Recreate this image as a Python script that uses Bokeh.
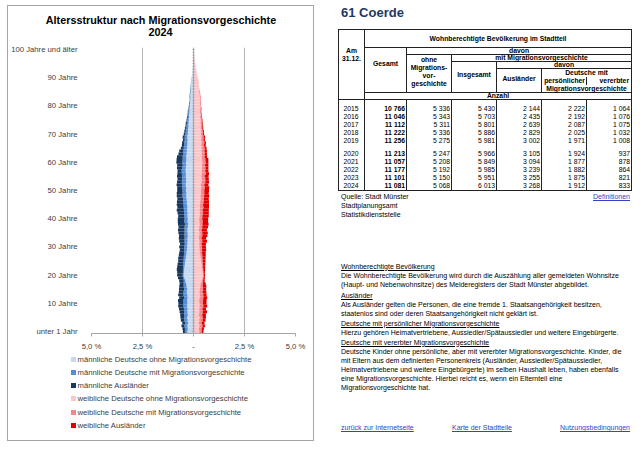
import numpy as np
from bokeh.plotting import figure
from bokeh.models import ColumnDataSource, FixedTicker, Span, Div, Label, Range1d
from bokeh.layouts import row, column
from bokeh.embed import file_html
from bokeh.resources import INLINE

FONT = "Liberation Sans"

# ---------------- data: pyramid (% of population), ages 0..100 ----------------
ages = list(range(101))

m_ohne = ([0.30, 0.28, 0.30, 0.27, 0.29, 0.31] +
          [0.28, 0.30, 0.29, 0.32, 0.30, 0.31, 0.29, 0.30, 0.33, 0.31, 0.34, 0.36] +
          [0.40, 0.45, 0.48, 0.47, 0.46, 0.44, 0.42, 0.40, 0.38, 0.36] +
          [0.34, 0.32, 0.31, 0.30, 0.29, 0.30, 0.28, 0.29, 0.30, 0.28, 0.27, 0.29, 0.28, 0.30, 0.29, 0.31, 0.30, 0.32] +
          [0.33, 0.34, 0.36, 0.35, 0.37, 0.36, 0.38, 0.37, 0.36, 0.38, 0.37, 0.39, 0.38, 0.36, 0.37, 0.35, 0.36, 0.34, 0.33, 0.32] +
          [0.31, 0.30, 0.29, 0.30, 0.28, 0.27, 0.26, 0.25, 0.24, 0.23, 0.22, 0.21, 0.20, 0.19, 0.18] +
          [0.17, 0.16, 0.15, 0.16, 0.14, 0.15, 0.13, 0.12, 0.10, 0.08, 0.07, 0.05, 0.04, 0.03, 0.02, 0.02, 0.01, 0.01, 0.00, 0.00])

m_mit = ([0.12, 0.14, 0.15, 0.13, 0.16, 0.15] +
         [0.17, 0.16, 0.18, 0.17, 0.19, 0.18, 0.17, 0.19, 0.16, 0.15, 0.14, 0.12] +
         [0.08, 0.06, 0.05, 0.05, 0.06, 0.07, 0.08, 0.09, 0.10, 0.11] +
         [0.12, 0.13, 0.14, 0.13, 0.15, 0.14, 0.16, 0.15, 0.14, 0.16, 0.15, 0.17, 0.16, 0.15, 0.17, 0.16, 0.18, 0.17] +
         [0.18, 0.17, 0.19, 0.18, 0.17, 0.19, 0.18, 0.20, 0.19, 0.18, 0.20, 0.19, 0.18, 0.17, 0.19, 0.18, 0.17, 0.16, 0.17, 0.16] +
         [0.15, 0.16, 0.14, 0.13, 0.12, 0.11, 0.10, 0.09, 0.08, 0.07, 0.06, 0.05, 0.05, 0.04, 0.03] +
         [0.03, 0.02, 0.03, 0.02, 0.02, 0.01, 0.02, 0.01, 0.01, 0.01, 0.00, 0.00, 0.00, 0.00, 0.00, 0.00, 0.00, 0.00, 0.00, 0.00])

m_ausl = ([0.10, 0.12, 0.14, 0.15, 0.17, 0.18] +
          [0.20, 0.22, 0.24, 0.26, 0.25, 0.27, 0.24, 0.26, 0.23, 0.25, 0.22, 0.20] +
          [0.22, 0.25, 0.27, 0.28, 0.30, 0.29, 0.28, 0.26, 0.27, 0.25] +
          [0.24, 0.22, 0.25, 0.23, 0.26, 0.28, 0.27, 0.30, 0.32, 0.29, 0.34, 0.31, 0.33, 0.30, 0.32, 0.35, 0.31, 0.33] +
          [0.30, 0.28, 0.27, 0.29, 0.26, 0.25, 0.27, 0.24, 0.23, 0.25, 0.22, 0.20, 0.25, 0.27, 0.28, 0.30, 0.28, 0.24, 0.20, 0.14] +
          [0.11, 0.10, 0.09, 0.10, 0.08, 0.07, 0.06, 0.05, 0.06, 0.04, 0.04, 0.03, 0.03, 0.02, 0.02] +
          [0.02, 0.01, 0.01, 0.01, 0.01, 0.01, 0.00, 0.00, 0.00, 0.00, 0.00, 0.00, 0.00, 0.00, 0.00, 0.00, 0.00, 0.00, 0.00, 0.00])

w_ohne = ([0.28, 0.27, 0.29, 0.26, 0.28, 0.30] +
          [0.27, 0.29, 0.28, 0.30, 0.29, 0.28, 0.30, 0.31, 0.29, 0.32, 0.33, 0.35] +
          [0.40, 0.44, 0.46, 0.45, 0.43, 0.41, 0.39, 0.37, 0.35, 0.33] +
          [0.31, 0.30, 0.29, 0.28, 0.29, 0.27, 0.28, 0.29, 0.27, 0.28, 0.30, 0.29, 0.28, 0.30, 0.31, 0.30, 0.32, 0.31] +
          [0.33, 0.35, 0.34, 0.36, 0.37, 0.38, 0.36, 0.39, 0.40, 0.38, 0.41, 0.40, 0.42, 0.41, 0.43, 0.42, 0.40, 0.41, 0.39, 0.40] +
          [0.38, 0.39, 0.37, 0.38, 0.36, 0.37, 0.35, 0.36, 0.34, 0.35, 0.33, 0.34, 0.32, 0.33, 0.31] +
          [0.33, 0.31, 0.32, 0.30, 0.29, 0.28, 0.26, 0.25, 0.23, 0.21, 0.18, 0.16, 0.13, 0.11, 0.09, 0.07, 0.05, 0.04, 0.02, 0.02])

w_mit = ([0.12, 0.13, 0.15, 0.14, 0.16, 0.15] +
         [0.16, 0.17, 0.16, 0.18, 0.17, 0.19, 0.18, 0.17, 0.16, 0.15, 0.13, 0.11] +
         [0.07, 0.05, 0.05, 0.04, 0.05, 0.06, 0.07, 0.08, 0.09, 0.10] +
         [0.11, 0.12, 0.13, 0.12, 0.14, 0.13, 0.15, 0.14, 0.13, 0.15, 0.14, 0.16, 0.15, 0.14, 0.16, 0.15, 0.17, 0.16] +
         [0.17, 0.16, 0.18, 0.17, 0.16, 0.18, 0.17, 0.19, 0.18, 0.17, 0.19, 0.18, 0.17, 0.16, 0.17, 0.16, 0.15, 0.14, 0.15, 0.14] +
         [0.13, 0.14, 0.12, 0.11, 0.10, 0.09, 0.08, 0.07, 0.07, 0.06, 0.05, 0.05, 0.04, 0.04, 0.03] +
         [0.03, 0.03, 0.02, 0.02, 0.02, 0.01, 0.01, 0.01, 0.01, 0.00, 0.00, 0.00, 0.00, 0.00, 0.00, 0.00, 0.00, 0.00, 0.00, 0.00])

w_ausl = ([0.09, 0.11, 0.12, 0.14, 0.15, 0.16] +
          [0.18, 0.20, 0.17, 0.19, 0.18, 0.17, 0.19, 0.16, 0.18, 0.15, 0.17, 0.14] +
          [0.08, 0.07, 0.06, 0.07, 0.09, 0.10, 0.12, 0.14, 0.15, 0.17] +
          [0.18, 0.20, 0.19, 0.21, 0.23, 0.22, 0.25, 0.27, 0.26, 0.28, 0.30, 0.27, 0.29, 0.31, 0.28, 0.30, 0.27, 0.29] +
          [0.26, 0.24, 0.25, 0.22, 0.23, 0.21, 0.20, 0.18, 0.17, 0.19, 0.16, 0.15, 0.14, 0.16, 0.13, 0.15, 0.12, 0.11, 0.12, 0.10] +
          [0.09, 0.08, 0.07, 0.08, 0.06, 0.05, 0.05, 0.04, 0.04, 0.03, 0.03, 0.02, 0.02, 0.02, 0.01] +
          [0.01, 0.01, 0.01, 0.01, 0.01, 0.00, 0.00, 0.00, 0.00, 0.00, 0.00, 0.00, 0.00, 0.00, 0.00, 0.00, 0.00, 0.00, 0.00, 0.00])

series_labels = ["männliche Deutsche ohne Migrationsvorgeschichte",
                 "männliche Deutsche mit Migrationsvorgeschichte",
                 "männliche Ausländer",
                 "weibliche Deutsche ohne Migrationsvorgeschichte",
                 "weibliche Deutsche mit Migrationsvorgeschichte",
                 "weibliche Ausländer"]
series_colors = ["#c6d9f1", "#558ed5", "#17375e", "#fbc6ca", "#f7868b", "#e00000"]

chart_title = "Altersstruktur nach Migrationsvorgeschichte"
chart_year = "2024"

age_ticks = [0, 10, 20, 30, 40, 50, 60, 70, 80, 90, 100]
age_tick_labels = ["unter 1 Jahr", "10 Jahre", "20 Jahre", "30 Jahre", "40 Jahre", "50 Jahre",
                   "60 Jahre", "70 Jahre", "80 Jahre", "90 Jahre", "100 Jahre und älter"]
pct_ticks = [-5, -2.5, 0, 2.5, 5]
pct_tick_labels = ["5,0 %", "2,5 %", "-", "2,5 %", "5,0 %"]

# ---------------- data: table ----------------
years = [2015, 2016, 2017, 2018, 2019, 2020, 2021, 2022, 2023, 2024]
gesamt = [10766, 11046, 11112, 11222, 11256, 11213, 11057, 11177, 11101, 11081]
ohne_mig = [5336, 5343, 5311, 5336, 5275, 5247, 5208, 5192, 5150, 5068]
mit_insg = [5430, 5703, 5801, 5886, 5981, 5966, 5849, 5985, 5951, 6013]
auslaender = [2144, 2435, 2639, 2829, 3002, 3105, 3094, 3239, 3255, 3268]
persoenlich = [2222, 2192, 2087, 2025, 1971, 1924, 1877, 1882, 1875, 1912]
vererbt = [1064, 1076, 1075, 1032, 1008, 937, 878, 864, 821, 833]

for s in (m_ohne, m_mit, m_ausl, w_ohne, w_mit, w_ausl):
    assert len(s) == 101, len(s)

src = ColumnDataSource(dict(
    age=ages,
    m1=[-v for v in m_ohne], m2=[-v for v in m_mit], m3=[-v for v in m_ausl],
    w1=w_ohne, w2=w_mit, w3=w_ausl,
))

# ---------------- title panel ----------------
tf = figure(width=305, height=36, x_range=Range1d(0, 305), y_range=Range1d(0, 36),
            output_backend="svg", toolbar_location=None,
            x_axis_location=None, y_axis_location=None,
            min_border_left=0, min_border_right=0, min_border_top=0, min_border_bottom=0)
tf.frame_align = False
tf.outline_line_color = None
tf.grid.grid_line_color = None
tf.add_layout(Label(x=152.5, y=23, text=chart_title, text_align="center", text_baseline="middle",
                    text_font=FONT, text_font_size="10.8px", text_font_style="bold", text_color="#000000"))
tf.add_layout(Label(x=152, y=11, text=chart_year, text_align="center", text_baseline="middle",
                    text_font=FONT, text_font_size="10.8px", text_font_style="bold", text_color="#000000"))

# ---------------- pyramid figure ----------------
p = figure(width=305, height=311, x_range=(-5, 5), y_range=(-0.7, 100.7),
           output_backend="svg", toolbar_location=None,
           min_border_left=78, min_border_right=18, min_border_top=5, min_border_bottom=18)
p.frame_align = False
p.outline_line_color = None
p.background_fill_color = "white"
p.border_fill_color = "white"

rm = p.hbar_stack(["m1", "m2", "m3"], y="age", height=1.0, source=src,
                  color=series_colors[:3], line_color=None)
rw = p.hbar_stack(["w1", "w2", "w3"], y="age", height=1.0, source=src,
                  color=series_colors[3:], line_color=None)

# central category axis line with small ticks
p.add_layout(Span(location=0, dimension="height", line_color="#a6a6a6", line_width=1))
p.scatter(x=[0] * len(ages), y=ages, marker="dash", size=3, line_color="#a6a6a6", line_width=0.6)

p.xgrid.ticker = FixedTicker(ticks=pct_ticks)
p.xgrid.grid_line_color = "#b3b3b3"
p.ygrid.grid_line_color = None

p.xaxis.ticker = FixedTicker(ticks=pct_ticks)
p.xaxis.major_label_overrides = {t: l for t, l in zip(pct_ticks, pct_tick_labels)}
p.xaxis.axis_line_color = "#a6a6a6"
p.xaxis.major_tick_line_color = "#a6a6a6"
p.xaxis.major_tick_out = 3
p.xaxis.major_tick_in = 0
p.xaxis.minor_tick_line_color = None
p.xaxis.major_label_standoff = 5
p.xaxis.major_label_text_font = FONT
p.xaxis.major_label_text_font_size = "7.7px"
p.xaxis.major_label_text_color = "#404040"

p.yaxis.ticker = FixedTicker(ticks=age_ticks)
p.yaxis.major_label_overrides = {t: l for t, l in zip(age_ticks, age_tick_labels)}
p.yaxis.axis_line_color = None
p.yaxis.major_tick_line_color = None
p.yaxis.minor_tick_line_color = None
p.yaxis.major_label_standoff = 8
p.yaxis.major_label_text_font = FONT
p.yaxis.major_label_text_font_size = "7.7px"
p.yaxis.major_label_text_color = "#404040"

# ---------------- legend (HTML block below the pyramid) ----------------
leg_items = ""
for i, (lab, col) in enumerate(zip(series_labels, series_colors)):
    cy = 6 + i * 13.3
    leg_items += (f'<div style="position:absolute;left:62.5px;top:{cy - 2.5:.1f}px;width:5px;height:5px;'
                  f'background:{col};"></div>'
                  f'<div style="position:absolute;left:69.5px;top:{cy - 6.5:.1f}px;line-height:13px;'
                  f'font-family:\'{FONT}\';font-size:7.7px;color:#404040;white-space:nowrap;">{lab}</div>')
legend_div = Div(text=f'<div style="position:relative;width:305px;height:87px;background:white;">{leg_items}</div>',
                 width=305, height=87, margin=0)

left = column(tf, p, legend_div, width=307, height=436,
              styles={"border": "1px solid #a6a6a6", "box-sizing": "border-box"})

# ---------------- right side: table and texts ----------------
def fmt(n):
    return f"{n:,}".replace(",", "&nbsp;")

BD = "1px solid #222"
hc = f"border:{BD};text-align:center;font-weight:bold;padding:0;line-height:6px;"

rows = []
for i, y in enumerate(years):
    h = 13 if i in (0, 5) else 8
    last = (i == len(years) - 1)
    bb = f"border-bottom:{BD};" if last else ""
    dc = f"border-left:{BD};border-right:{BD};{bb}padding:0 1px 0 0;line-height:8px;vertical-align:bottom;text-align:right;"
    rows.append(
        f'<tr style="height:{h}px">'
        f'<td style="{dc}text-align:center;">{y}</td>'
        f'<td style="{dc}font-weight:bold;">{fmt(gesamt[i])}</td>'
        f'<td style="{dc}">{fmt(ohne_mig[i])}</td>'
        f'<td style="{dc}">{fmt(mit_insg[i])}</td>'
        f'<td style="{dc}">{fmt(auslaender[i])}</td>'
        f'<td style="{dc}">{fmt(persoenlich[i])}</td>'
        f'<td style="{dc}">{fmt(vererbt[i])}</td>'
        '</tr>')

table = f"""
<table style="position:absolute;left:24px;top:24px;border-collapse:collapse;table-layout:fixed;
 width:293px;font-size:6.8px;font-family:'{FONT}';color:#000;">
<colgroup><col style="width:26px"><col style="width:42px"><col style="width:45px"><col style="width:45px">
<col style="width:45px"><col style="width:45px"><col style="width:45px"></colgroup>
<tr style="height:18px"><td rowspan="8" style="{hc}line-height:8px;vertical-align:top;padding-top:17px;">Am<br>31.12.</td>
<td colspan="6" style="{hc}">Wohnberechtigte Bevölkerung im Stadtteil</td></tr>
<tr style="height:6.6px"><td rowspan="6" style="{hc}padding-bottom:12px;">Gesamt</td><td colspan="5" style="{hc}">davon</td></tr>
<tr style="height:7px"><td rowspan="5" style="{hc}line-height:8px;padding-bottom:4px;">ohne<br>Migrations-<br>vor-<br>geschichte</td>
<td colspan="4" style="{hc}">mit Migrationsvorgeschichte</td></tr>
<tr style="height:7.4px"><td rowspan="4" style="{hc}padding-bottom:4px;">Insgesamt</td><td colspan="3" style="{hc}">davon</td></tr>
<tr style="height:8px"><td rowspan="3" style="{hc}padding-bottom:4px;">Ausländer</td>
<td colspan="2" style="{hc}border-bottom:none;">Deutsche mit</td></tr>
<tr style="height:8px"><td style="{hc}border-top:none;border-bottom:none;text-align:right;padding-right:1px;">persönlicher</td>
<td style="{hc}border-top:none;border-bottom:none;text-align:right;padding-right:2px;">vererbter</td></tr>
<tr style="height:8px"><td colspan="2" style="{hc}border-top:none;">Migrationsvorgeschichte</td></tr>
<tr style="height:6.6px"><td colspan="6" style="{hc}">Anzahl</td></tr>
{''.join(rows)}
</table>
"""

LINK = "color:#3344cc;text-decoration:underline;"
TXT = f"font-family:'{FONT}';font-size:7px;line-height:9px;white-space:nowrap;color:#000;"

sections = [
    (256.5, "Wohnberechtigte Bevölkerung",
     ["Die Wohnberechtigte Bevölkerung wird durch die Auszählung aller gemeldeten Wohnsitze",
      "(Haupt- und Nebenwohnsitze) des Melderegisters der Stadt Münster abgebildet."]),
    (285.5, "Ausländer",
     ["Als Ausländer gelten die Personen, die eine fremde 1. Staatsangehörigkeit besitzen,",
      "staatenlos sind oder deren Staatsangehörigkeit nicht geklärt ist."]),
    (313.5, "Deutsche mit persönlicher Migrationsvorgeschichte",
     ["Hierzu gehören Heimatvertriebene, Aussiedler/Spätaussiedler und weitere Eingebürgerte."]),
    (332.5, "Deutsche mit vererbter Migrationsvorgeschichte",
     ["Deutsche Kinder ohne persönliche, aber mit vererbter Migrationsvorgeschichte. Kinder, die",
      "mit Eltern aus dem definierten Personenkreis (Ausländer, Aussiedler/Spätaussiedler,",
      "Heimatvertriebene und weitere Eingebürgerte) im selben Haushalt leben, haben ebenfalls",
      "eine Migrationsvorgeschichte. Hierbei reicht es, wenn ein Elternteil eine",
      "Migrationsvorgeschichte hat."]),
]
sec_html = ""
for top, head, lines in sections:
    sec_html += (f'<div style="position:absolute;left:27px;top:{top}px;{TXT}">'
                 f'<span style="text-decoration:underline;">{head}</span><br>' + "<br>".join(lines) + "</div>")

html = f"""
<div style="position:relative;width:318px;height:436px;font-family:'{FONT}';">
<div style="position:absolute;left:27px;top:0px;font-size:13px;font-weight:bold;color:#1f3864;line-height:16px;">61 Coerde</div>
{table}
<div style="position:absolute;left:27px;top:186.5px;{TXT}">Quelle: Stadt Münster<br>Stadtplanungsamt<br>Statistikdienststelle</div>
<div style="position:absolute;right:2px;top:186.5px;{TXT}{LINK}">Definitionen</div>
{sec_html}
<div style="position:absolute;left:27px;top:418px;{TXT}{LINK}">zurück zur Internetseite</div>
<div style="position:absolute;left:138px;top:418px;{TXT}{LINK}">Karte der Stadtteile</div>
<div style="position:absolute;right:2px;top:418px;{TXT}{LINK}">Nutzungsbedingungen</div>
</div>
"""

div = Div(text=html, width=318, height=436, margin=0)

layout = row(left, div, margin=(5, 0, 0, 7))
open("out.html", "w").write(file_html(layout, INLINE))
